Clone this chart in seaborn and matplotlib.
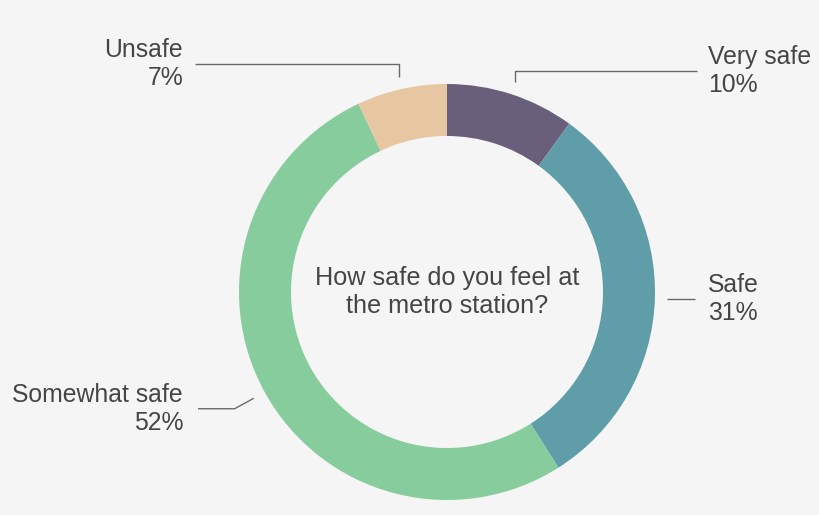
import numpy as np
import matplotlib
matplotlib.use("Agg")
import matplotlib.pyplot as plt
import seaborn as sns

# Dados
categorias = ["Very safe", "Safe", "Somewhat safe", "Unsafe"]
percentuais = [10, 31, 52, 7]
cores = ["#6a5f7b", "#5f9ea8", "#87cc9c", "#e6c7a1"]
pergunta = "How safe do you feel at\nthe metro station?"

sns.set_theme(style="white")
plt.rcParams["font.family"] = ["Liberation Sans", "DejaVu Sans"]

fundo = "#f5f5f5"
fig = plt.figure(figsize=(8.2, 5.15), dpi=100, facecolor=fundo)
ax = fig.add_axes([0, 0, 1, 1])
ax.set_facecolor(fundo)

ax.pie(
    percentuais,
    colors=cores,
    startangle=90,
    counterclock=False,
    radius=1.0,
    wedgeprops=dict(width=0.25, edgecolor="none"),
)

# janela: centro do anel em (447, 292) px, raio 208 px
escala = 208
ax.set_xlim(-447 / escala, (820 - 447) / escala)
ax.set_ylim(-(515 - 292) / escala, 292 / escala)
ax.set_aspect("equal")
ax.axis("off")

ax.text(0, 0, pergunta, ha="center", va="center", fontsize=18.2,
        color="#454545", linespacing=1.25)

# Rótulos com linhas de chamada (layout por fatia)
layout = {
    "Very safe": dict(tipo="vertical", y=1.0625, x_fim=1.202, x_txt=1.255),
    "Safe": dict(tipo="reto", x_fim=1.192, x_txt=1.255),
    "Somewhat safe": dict(tipo="radial", r=1.165, x_fim=-1.197, x_txt=-1.269),
    "Unsafe": dict(tipo="vertical", y=1.096, x_fim=-1.212, x_txt=-1.269),
}

acumulado = np.cumsum([0] + percentuais)
for i, cat in enumerate(categorias):
    meio = (acumulado[i] + acumulado[i + 1]) / 2 / 100 * 2 * np.pi
    sx, sy = np.sin(meio), np.cos(meio)
    x0, y0 = 1.06 * sx, 1.06 * sy
    cfg = layout[cat]
    if cfg["tipo"] == "vertical":
        xs = [x0, x0, cfg["x_fim"]]
        ys = [y0, cfg["y"], cfg["y"]]
    elif cfg["tipo"] == "radial":
        x1, y1 = cfg["r"] * sx, cfg["r"] * sy
        xs = [x0, x1, cfg["x_fim"]]
        ys = [y0, y1, y1]
    else:
        xs = [x0, cfg["x_fim"]]
        ys = [y0, y0]
    ax.plot(xs, ys, color="#6a6a6a", linewidth=1.0, solid_capstyle="butt")
    ha = "left" if cfg["x_txt"] > 0 else "right"
    ax.text(cfg["x_txt"], ys[-1], f"{cat}\n{percentuais[i]}%", ha=ha,
            va="center", fontsize=17.8, color="#454545", linespacing=1.2,
            multialignment=ha)

plt.savefig("out.png", dpi=100, facecolor=fundo)
plt.close()
